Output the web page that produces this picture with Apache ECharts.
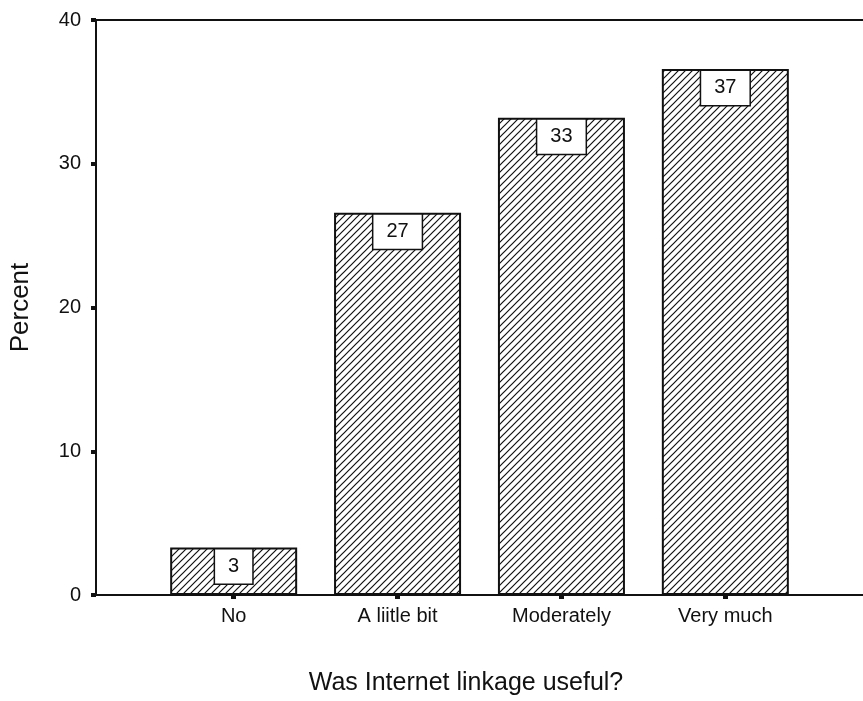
<!DOCTYPE html>
<html><head><meta charset="utf-8">
<script src="https://cdn.jsdelivr.net/npm/echarts@6/dist/echarts.min.js"></script>
<style>html,body{margin:0;padding:0;background:#fff}#c{width:863px;height:701px}</style>
</head><body><div id="c"></div>
<script>
const categories = ['No', 'A liitle bit', 'Moderately', 'Very much'];
const percents = [3.3, 26.6, 33.2, 36.6];
const yTicks = [0, 10, 20, 30, 40];

// diagonal hatch pattern
const T = 7;
const tile = document.createElement('canvas');
tile.width = T; tile.height = T;
const g = tile.getContext('2d');
g.fillStyle = '#fff'; g.fillRect(0, 0, T, T);
g.strokeStyle = '#111'; g.lineWidth = 1.2;
g.beginPath();
g.moveTo(0, T); g.lineTo(T, 0);
g.moveTo(-1, 1); g.lineTo(1, -1);
g.moveTo(T - 1, T + 1); g.lineTo(T + 1, T - 1);
g.stroke();

const positions = categories.map((c, i) => i + 1);
const chart = echarts.init(document.getElementById('c'));
const font = 'Liberation Sans, Arial, sans-serif';
chart.setOption({
  animation: false,
  grid: { left: 96, right: 0, top: 20, bottom: 104 },
  xAxis: [{
    type: 'value', min: 0.16, max: 4.84,
    position: 'bottom',
    splitLine: { show: false },
    axisLine: { show: true, lineStyle: { color: '#111', width: 2 } },
    axisTick: { show: true, customValues: positions, length: 4, lineStyle: { color: '#111', width: 5 } },
    axisLabel: { customValues: positions, formatter: v => categories[Math.round(v) - 1] || '', margin: 11,
      fontSize: 20, color: '#111', fontFamily: font },
    name: 'Was Internet linkage useful?', nameLocation: 'middle', nameGap: 76,
    nameTextStyle: { fontSize: 25, color: '#111', fontFamily: font, padding: [0, 27, 0, 0] }
  }, {
    type: 'value', min: 0.16, max: 4.84, position: 'top',
    splitLine: { show: false },
    axisLine: { show: true, lineStyle: { color: '#111', width: 2 } },
    axisTick: { show: false }, axisLabel: { show: false }
  }],
  yAxis: {
    type: 'value', min: yTicks[0], max: yTicks[yTicks.length - 1], interval: 10,
    splitLine: { show: false },
    axisLine: { show: true, lineStyle: { color: '#111', width: 2 } },
    axisTick: { show: true, length: 5, lineStyle: { color: '#111', width: 4 } },
    axisLabel: { margin: 15, fontSize: 20, color: '#111', fontFamily: font },
    name: 'Percent', nameLocation: 'middle', nameGap: 62,
    nameTextStyle: { fontSize: 26, color: '#111', fontFamily: font }
  },
  series: [{
    type: 'bar', xAxisIndex: 0,
    data: percents.map((v, i) => [positions[i], v]),
    barWidth: 127,
    itemStyle: { color: { image: tile, repeat: 'repeat' }, borderColor: '#111', borderWidth: 2 },
    label: {
      show: true, position: 'insideTop', distance: 2,
      formatter: p => Math.round(p.value[1]),
      backgroundColor: '#fff', borderColor: '#111', borderWidth: 1.5,
      padding: [7, 13, 7, 13], fontSize: 20, color: '#111', fontFamily: font
    }
  }]
});
</script></body></html>
